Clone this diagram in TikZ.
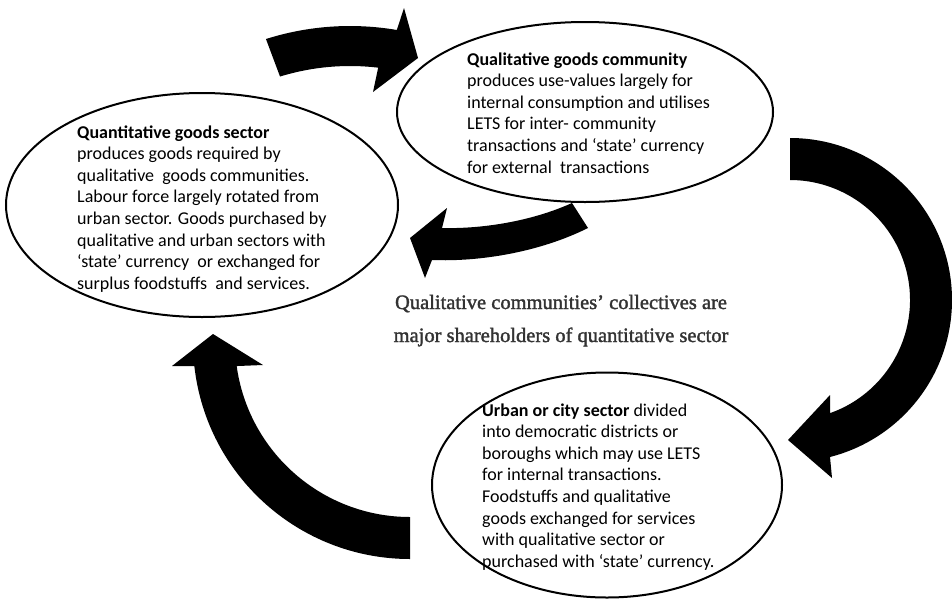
\documentclass[tikz,border=0pt]{standalone}
\usepackage{fontspec}
\setmainfont{Carlito}
\newfontfamily\captionserif[FakeBold=1.6]{Liberation Serif}
\usetikzlibrary{shapes.geometric,calc}
\begin{document}
\begin{tikzpicture}[x=1pt,y=-1pt,
  bubble/.style={draw=black, line width=2pt, ellipse, inner sep=0pt},
  bodytext/.style={anchor=base west, inner sep=0pt, font=\fontsize{18}{21.6}\selectfont},
  captiontext/.style={anchor=base, inner sep=0pt, text=black!80, font=\captionserif\fontsize{20.5}{33}\selectfont},
  blockarrow/.style={fill=black, draw=none}]
\useasboundingbox (0,0) rectangle (952,600);

% ellipses
\node[bubble, minimum width=392pt, minimum height=224pt] (quant) at (202,205) {};
\node[bubble, minimum width=376pt, minimum height=180pt] (qual) at (585,112) {};
\node[bubble, minimum width=350pt, minimum height=225pt] (urban) at (607,485) {};

% texts
\node[bodytext] (quanttext) at (77,138) {\parbox[t]{330pt}{\raggedright
\textbf{Quantitative goods sector}\\
produces goods required by\\
qualitative\ \ goods communities.\\
Labour force largely rotated from\\
urban sector. Goods purchased by\\
qualitative and urban sectors with\\
‘state’ currency\ \ or exchanged for\\
surplus foodstuffs\ \ and services.}};

\node[bodytext] (qualtext) at (467,65) {\parbox[t]{300pt}{\raggedright
\textbf{Qualitative goods community}\\
produces use-values largely for\\
internal consumption and utilises\\
LETS for inter- community\\
transactions and ‘state’ currency\\
for external\ \ transactions}};

\node[bodytext] (urbantext) at (482,416) {\parbox[t]{300pt}{\raggedright
\textbf{Urban or city sector} divided\\
into democratic districts or\\
boroughs which may use LETS\\
for internal transactions.\\
Foodstuffs and qualitative\\
goods exchanged for services\\
with qualitative sector or\\
purchased with ‘state’ currency.}};

\node[captiontext] (cap1) at (561,309) {Qualitative communities’ collectives are};
\node[captiontext] (cap2) at (561,342) {major shareholders of quantitative sector};

% arrow 1: quantitative -> qualitative (top)
\coordinate (c1) at (350,304);
\fill[blockarrow] ($(c1)+(-107.6:278)$) arc[start angle=-107.6, end angle=-80.3, radius=278]
  -- (404,8) -- (418,58) -- (373,92)
  -- ($(c1)+(-83.2:238)$) arc[start angle=-83.2, end angle=-107.1, radius=238] -- cycle;

% arrow 2: qualitative -> urban (right)
\coordinate (c2) at (790,300);
\fill[blockarrow] ($(c2)+(-90:162)$) arc[start angle=-90, end angle=75.7, radius=162]
  -- (832,478) -- (788,440) -- (830,395)
  -- ($(c2)+(70.5:120)$) arc[start angle=70.5, end angle=-90, radius=120] -- cycle;

% arrow 3: qualitative -> quantitative (middle)
\fill[blockarrow] (572,203) .. controls (530,222) and (480,229) .. (442,228)
  -- (447,208) -- (410,238) -- (425,278) -- (432,260)
  .. controls (480,262) and (540,252) .. (588,228) -- cycle;

% arrow 4: urban -> quantitative (bottom left)
\coordinate (c4) at (410,342);
\fill[blockarrow] ($(c4)+(90:217)$) arc[start angle=90, end angle=173.6, radius=217]
  -- (172,366) -- (213,334) -- (263,365)
  -- ($(c4)+(172.1:175)$) arc[start angle=172.1, end angle=90, radius=175] -- cycle;
\end{tikzpicture}
\end{document}
